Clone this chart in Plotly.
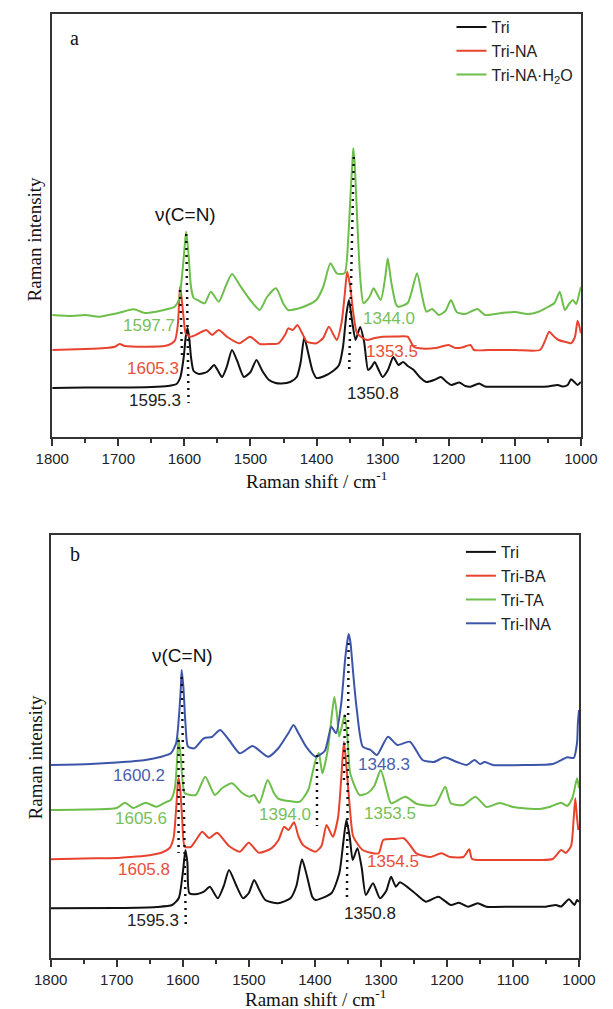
import plotly.graph_objects as go

# ---------------- data (wavenumber / cm-1, Raman intensity in arbitrary units) ----------------
TICKS = [1800, 1700, 1600, 1500, 1400, 1300, 1200, 1100, 1000]
TICK_LABELS = ["1800", "1700", "1600", "1500", "1400", "1300", "1200", "1100", "1000"]

# panel a
TRI_A = [(1800, 49), (1750, 49.5), (1700, 49.5), (1650, 50), (1625, 51), (1612, 53), (1606, 60),
         (1601, 80), (1598, 100), (1595.3, 109), (1592.5, 98), (1590, 80), (1586, 66), (1578, 63),
         (1570, 64), (1566, 65), (1561, 68), (1555, 72), (1549, 66), (1543, 60), (1536, 70),
         (1528, 87), (1520, 76), (1510, 60), (1500, 65), (1491, 77), (1482, 66), (1472, 57),
         (1462, 54), (1453, 53.5), (1440, 55), (1430, 60), (1424, 75), (1418.6, 99.7), (1413, 85),
         (1406, 66), (1400, 59), (1388, 61), (1375, 66), (1366, 72), (1360, 90), (1355, 122),
         (1351, 137), (1346, 115), (1341, 97), (1334, 110), (1328, 95), (1322, 67), (1317, 70),
         (1312, 75), (1306, 67), (1300, 60), (1292, 67), (1284, 80), (1279, 75), (1276, 72),
         (1269, 75), (1262, 71), (1253, 67), (1244, 60), (1234, 55), (1222, 57), (1212, 60),
         (1203, 55), (1196, 52), (1184, 54.5), (1175, 51), (1167, 50.3), (1154, 53.5), (1145, 50.5),
         (1130, 50.3), (1100, 50.3), (1070, 50.3), (1050, 50.5), (1035, 52), (1028, 50.5),
         (1020, 52), (1015, 57.7), (1010, 55), (1005, 52), (1000, 55)]

TRI_NA_A = [(1800, 87), (1750, 88), (1720, 89), (1705, 90.3), (1698, 93), (1690, 91), (1657.6, 90.3),
            (1630, 91), (1619, 93.7), (1614, 97), (1610, 112), (1608, 135), (1606.6, 150.3),
            (1604, 138), (1601, 118), (1598, 103.7), (1591, 100.3), (1580, 103), (1567, 107),
            (1558, 102), (1548, 107), (1535, 100), (1517, 93.7), (1500.4, 100.3), (1486, 93),
            (1470, 93), (1457.6, 93.7), (1447, 103), (1443, 108.7), (1436, 107), (1429, 112),
            (1422, 104), (1414.7, 95.3), (1400.4, 93.7), (1390, 99), (1381.4, 110.3), (1369.4, 97),
            (1362, 115), (1357, 145), (1353.7, 165.3), (1349, 150), (1344, 122), (1338.6, 103.7),
            (1324.3, 97), (1312, 99), (1300.4, 100.3), (1280, 100.5), (1262.3, 100.3),
            (1252.9, 90.3), (1240, 88.5), (1220, 89), (1200.4, 92), (1190, 89), (1180, 89.5),
            (1167, 92), (1162, 87), (1140, 87), (1100, 87), (1062, 87), (1055, 95), (1048, 105.3),
            (1040, 100), (1033.7, 97), (1020, 94.5), (1014.7, 93.7), (1009, 100), (1005, 116.3),
            (1002, 110), (1000, 103.7)]

TRI_NA_H2O_A = [(1800, 122), (1770, 121), (1750, 122), (1729, 120.3), (1700, 124), (1676.6, 127.7),
                (1660, 124), (1643, 125.3), (1625, 128), (1614.7, 130.3), (1608, 138), (1603, 165),
                (1599, 195), (1597.3, 205.3), (1594, 185), (1590, 150), (1586, 139), (1580, 137),
                (1569.4, 133.7), (1560, 145.3), (1548, 135.3), (1538, 150), (1528, 163),
                (1514.7, 150.3), (1500.4, 137), (1486, 127), (1475, 140), (1461.4, 148.7),
                (1450, 133), (1443, 127), (1425, 129), (1410, 133), (1400.4, 137), (1390, 150),
                (1379, 173.7), (1369.4, 163.7), (1357.6, 163.7), (1352, 200), (1348, 250),
                (1345, 283), (1344.2, 288.7), (1342, 270), (1338, 210), (1334, 160), (1329, 133.7),
                (1320, 140), (1313.7, 148.7), (1302.9, 137), (1296, 160), (1292.3, 178.7),
                (1287, 155), (1280, 133), (1276.6, 130.3), (1262, 134), (1248, 163.7), (1240, 140),
                (1233.7, 125.3), (1225, 128), (1215, 122), (1205, 126), (1196.6, 137), (1188, 125),
                (1175, 123), (1156.6, 128), (1145, 122), (1120, 124), (1100, 125), (1080, 123),
                (1065, 125), (1050, 130), (1040, 134), (1032, 145.3), (1024.3, 127), (1018, 133),
                (1012.3, 137), (1007, 133), (1003, 142), (1000, 150.3)]

# panel b
TRI_B = [(1800, 49.7), (1700, 50), (1640, 51), (1616, 53), (1606, 60), (1600, 85), (1596, 108),
         (1593, 95), (1590, 64.7), (1578, 64), (1568, 66.3), (1559, 71.3), (1547, 59.7), (1538, 72),
         (1530, 88), (1520, 74), (1508.7, 59.7), (1500, 65), (1492, 78), (1484, 68), (1475, 58),
         (1456, 54.7), (1437, 59.7), (1428, 72), (1419.5, 98.7), (1412, 82), (1404, 61.3),
         (1399, 58), (1375, 64.7), (1363, 84.7), (1357, 115), (1352.2, 138), (1347, 120),
         (1342.7, 98), (1335.6, 109.7), (1329, 90), (1322.8, 63), (1312, 74.7), (1301.3, 59.7),
         (1292, 67), (1284.6, 81.3), (1277.4, 71.3), (1271.2, 75.7), (1251, 66.3), (1232, 56.3),
         (1213, 61.3), (1194, 53), (1182, 55.3), (1168, 51.3), (1153.4, 54.7), (1140, 51.3),
         (1100, 51.3), (1050, 51.3), (1035, 53), (1027, 51.5), (1015.2, 58.7), (1007, 53),
         (1003, 58), (1000, 56)]

TRI_BA_B = [(1800, 98.7), (1750, 99.5), (1700, 100), (1680, 101), (1660, 102), (1632.6, 105.3),
            (1620, 110), (1614, 120), (1610, 150), (1607.5, 175), (1606.4, 179.7), (1604, 170),
            (1601, 140), (1597, 111.3), (1588, 111), (1580, 118), (1570.7, 126.3), (1560, 120),
            (1548.2, 125.3), (1530, 112), (1513.5, 106.3), (1500.1, 115.3), (1484.8, 105.3),
            (1465.8, 109.7), (1455, 118), (1446.6, 131.3), (1440, 128), (1431.5, 135.7),
            (1425, 122), (1418, 113), (1399, 106.3), (1390, 112), (1382.3, 133), (1372.8, 121.3),
            (1365, 140), (1360, 180), (1356, 216.3), (1352, 190), (1347, 150), (1341.8, 121.3),
            (1327.5, 108), (1303.6, 104.7), (1296.4, 118), (1280, 119), (1265.5, 119.7),
            (1256, 113), (1246.4, 104.7), (1225, 101), (1208.3, 104.7), (1195, 101), (1175, 101),
            (1166.2, 108.7), (1162, 99), (1140, 98), (1100, 98), (1060, 98), (1040, 99),
            (1027, 108), (1020, 105), (1012, 112), (1008, 140), (1005.6, 159.7), (1003, 140),
            (1001, 128)]

TRI_TA_B = [(1800, 148), (1750, 148.5), (1700, 150), (1687.6, 155.3), (1675, 150), (1656.5, 155.3),
            (1640, 151.3), (1625, 156), (1618.3, 158), (1612, 170), (1608, 205), (1606.4, 219.7),
            (1603, 200), (1600, 175), (1597, 164.7), (1580.3, 163), (1566, 181.3), (1551.6, 163),
            (1540, 170), (1525.3, 174.7), (1510, 165), (1499.1, 161.3), (1492, 163), (1484, 155),
            (1471.5, 178), (1462, 165), (1456.2, 159.7), (1440, 157), (1422.9, 156.3), (1410, 168),
            (1403.7, 184.7), (1398, 200), (1394, 205), (1388.6, 184.7), (1380, 210), (1374, 245),
            (1370.4, 261.3), (1366, 240), (1363.3, 221.3), (1358, 235), (1354.7, 243), (1350, 215),
            (1346.5, 184.7), (1332.2, 163), (1320, 165), (1310, 172), (1300.3, 188), (1292, 170),
            (1284.6, 154.7), (1263.1, 161.3), (1245, 154), (1217.8, 153), (1202.6, 171.3),
            (1194, 154.7), (1175, 153), (1156.8, 161.3), (1140, 151), (1120, 155), (1100, 151),
            (1060, 149), (1045, 151), (1027, 155.3), (1018, 152), (1010, 160), (1002.9, 179.7),
            (1000, 170)]

TRI_INA_B = [(1800, 193), (1740, 194), (1700, 195.5), (1656.5, 198), (1632.6, 201.3), (1618, 204.7),
             (1610, 215), (1606, 240), (1603, 270), (1601.7, 288), (1599, 270), (1596, 235),
             (1592.1, 211.3), (1582.5, 209.7), (1568.2, 219.7), (1556, 221), (1543.5, 228),
             (1530, 218), (1513.5, 204.7), (1494.4, 212), (1470.5, 201.3), (1455, 210), (1440, 225),
             (1432.3, 233), (1425, 225), (1413.3, 211.3), (1399, 201.3), (1385, 207), (1375, 231.3),
             (1368, 224.7), (1360, 255), (1354, 300), (1350, 320), (1348.6, 324), (1346, 315),
             (1342, 285), (1337, 251.3), (1327.5, 211.3), (1315.6, 208), (1306, 203),
             (1289.3, 221.3), (1275, 213), (1256, 216.3), (1237, 198), (1220, 196), (1203.4, 200.7),
             (1185, 196), (1170, 193), (1158.3, 198), (1150, 194), (1143, 196), (1130, 193),
             (1080, 193), (1040, 194), (1017.5, 200.7), (1008, 200), (1003, 215), (1001.7, 234.7),
             (1000, 248)]

# peak labels: (text, wavenumber, intensity, colour key)
LABELS_A = [("1597.7", 1652.9, 111, "green"), ("1605.3", 1647.1, 68.7, "red"),
            ("1595.3", 1644.7, 36.3, "black"), ("1344.0", 1290.9, 118.7, "green"),
            ("1353.5", 1286.1, 85.3, "red"), ("1350.8", 1314.3, 43.7, "black")]
LABELS_B = [("1600.2", 1666.1, 183, "blue"), ("1605.6", 1663.7, 139.7, "green"),
            ("1605.8", 1658.9, 88.7, "red"), ("1595.3", 1644.6, 38, "black"),
            ("1394.0", 1444.6, 144, "green"), ("1348.3", 1295.6, 194, "blue"),
            ("1353.5", 1286.0, 144.7, "green"), ("1354.5", 1281.7, 96.3, "red"),
            ("1350.8", 1316.6, 44.7, "black")]
MODE_A = ("ν(C=N)", 1598, 222)
MODE_B = ("ν(C=N)", 1601, 303)

# dotted guide lines: ((x0, y0), (x1, y1))
GUIDES_A = [((1597.2, 203), (1593.7, 34)), ((1606.6, 147), (1603.3, 77)),
            ((1343.7, 280), (1350.6, 67))]
GUIDES_B = [((1601.7, 281), (1595.4, 31)), ((1606.4, 218), (1606.4, 105)),
            ((1396.8, 203), (1396.8, 132)), ((1348.9, 315), (1351.4, 61)),
            ((1354.6, 243), (1356.0, 173))]

# ---------------- styling ----------------
LINE_COL = {"black": "#111111", "red": "#e8432e", "green": "#6dbe4b", "blue": "#3d55a8"}
TEXT_COL = {"black": "#222222", "red": "#e8503a", "green": "#78c05a", "blue": "#4a5fae"}
SANS = "Liberation Sans, Arial, sans-serif"
SERIF = "Liberation Serif, Times New Roman, serif"

W, H = 613, 1009
def px_x(p):
    return p / W
def px_y(p):
    return 1 - p / H

fig = go.Figure()

def add_series(pairs, name, col, xa, ya, legend):
    fig.add_trace(go.Scatter(
        x=[p[0] for p in pairs], y=[p[1] for p in pairs], mode="lines", name=name,
        line=dict(color=LINE_COL[col], width=2, shape="spline", smoothing=0.6),
        xaxis=xa, yaxis=ya, legend=legend))

add_series(TRI_A, "Tri", "black", "x", "y", "legend")
add_series(TRI_NA_A, "Tri-NA", "red", "x", "y", "legend")
add_series(TRI_NA_H2O_A, "Tri-NA·H<sub>2</sub>O", "green", "x", "y", "legend")

add_series(TRI_B, "Tri", "black", "x2", "y2", "legend2")
add_series(TRI_BA_B, "Tri-BA", "red", "x2", "y2", "legend2")
add_series(TRI_TA_B, "Tri-TA", "green", "x2", "y2", "legend2")
add_series(TRI_INA_B, "Tri-INA", "blue", "x2", "y2", "legend2")

for guides, xa, ya in [(GUIDES_A, "x", "y"), (GUIDES_B, "x2", "y2")]:
    for (p0, p1) in guides:
        fig.add_trace(go.Scatter(x=[p0[0], p1[0]], y=[p0[1], p1[1]], mode="lines",
                                 line=dict(color="#111111", width=2.5, dash="2px,5px"),
                                 xaxis=xa, yaxis=ya, showlegend=False, hoverinfo="skip"))

annotations = []
for labels, mode, xr, yr in [(LABELS_A, MODE_A, "x", "y"), (LABELS_B, MODE_B, "x2", "y2")]:
    for text, xv, yv, c in labels:
        annotations.append(dict(text=text, x=xv, y=yv, xref=xr, yref=yr, showarrow=False,
                                xanchor="center", yanchor="middle",
                                font=dict(family=SANS, size=17, color=TEXT_COL[c])))
    annotations.append(dict(text=mode[0], x=mode[1], y=mode[2], xref=xr, yref=yr, showarrow=False,
                            xanchor="center", yanchor="middle",
                            font=dict(family=SANS, size=19, color="#111111")))

# panel letters and axis titles
for letter, (lx, ly) in [("a", (61, 38)), ("b", (61, 554))]:
    annotations.append(dict(text=letter, x=px_x(lx), y=px_y(ly), xref="paper", yref="paper",
                            xanchor="center", yanchor="middle", showarrow=False,
                            font=dict(family=SERIF, size=20, color="#111111")))
for (tx, ty) in [(317, 480), (316, 998)]:
    annotations.append(dict(text="Raman shift / cm<sup>-1</sup>", x=px_x(tx), y=px_y(ty),
                            xref="paper", yref="paper", showarrow=False,
                            xanchor="center", yanchor="middle",
                            font=dict(family=SERIF, size=19, color="#111111")))
for (tx, ty) in [(19.5, 239), (19.5, 757)]:
    annotations.append(dict(text="Raman intensity", x=px_x(tx), y=px_y(ty), textangle=-90,
                            xref="paper", yref="paper", showarrow=False,
                            xanchor="center", yanchor="middle",
                            font=dict(family=SERIF, size=19, color="#111111")))

xaxis_common = dict(range=[1800, 1000], tickmode="array", tickvals=TICKS, ticktext=TICK_LABELS,
                    ticks="outside", ticklen=7, tickwidth=1.5, tickcolor="#333333",
                    minor=dict(dtick=50, tick0=1000, ticks="outside", ticklen=4, tickwidth=1.5,
                               tickcolor="#333333"),
                    showline=True, mirror=True, linecolor="#333333", linewidth=1.5,
                    showgrid=False, zeroline=False,
                    tickfont=dict(family=SANS, size=15, color="#222222"))
yaxis_common = dict(range=[0, 423], showticklabels=False, ticks="", showline=True, mirror=True,
                    linecolor="#333333", linewidth=1.5, showgrid=False, zeroline=False)

fig.update_layout(
    width=W, height=H, autosize=False, margin=dict(l=0, r=0, t=0, b=0),
    paper_bgcolor="white", plot_bgcolor="white", showlegend=True,
    xaxis=dict(domain=[px_x(37.3), px_x(597)], anchor="y", **xaxis_common),
    yaxis=dict(domain=[px_y(437), px_y(14)], anchor="x", **yaxis_common),
    xaxis2=dict(domain=[px_x(35.7), px_x(595)], anchor="y2", **xaxis_common),
    yaxis2=dict(domain=[px_y(958), px_y(535)], anchor="x2", **yaxis_common),
    legend=dict(x=px_x(460), y=px_y(10), xanchor="left", yanchor="top", bgcolor="rgba(0,0,0,0)",
                font=dict(family=SANS, size=16, color="#222222"), tracegroupgap=0),
    legend2=dict(x=px_x(470), y=px_y(535), xanchor="left", yanchor="top", bgcolor="rgba(0,0,0,0)",
                 font=dict(family=SANS, size=16, color="#222222"), tracegroupgap=0),
    annotations=annotations,
)

# the page body has a default 8px margin; remove it so the 613x1009 figure fills the window exactly
fig.write_html("out.html", config={"displayModeBar": False, "responsive": False},
               post_script="document.body.style.margin='0px';")
